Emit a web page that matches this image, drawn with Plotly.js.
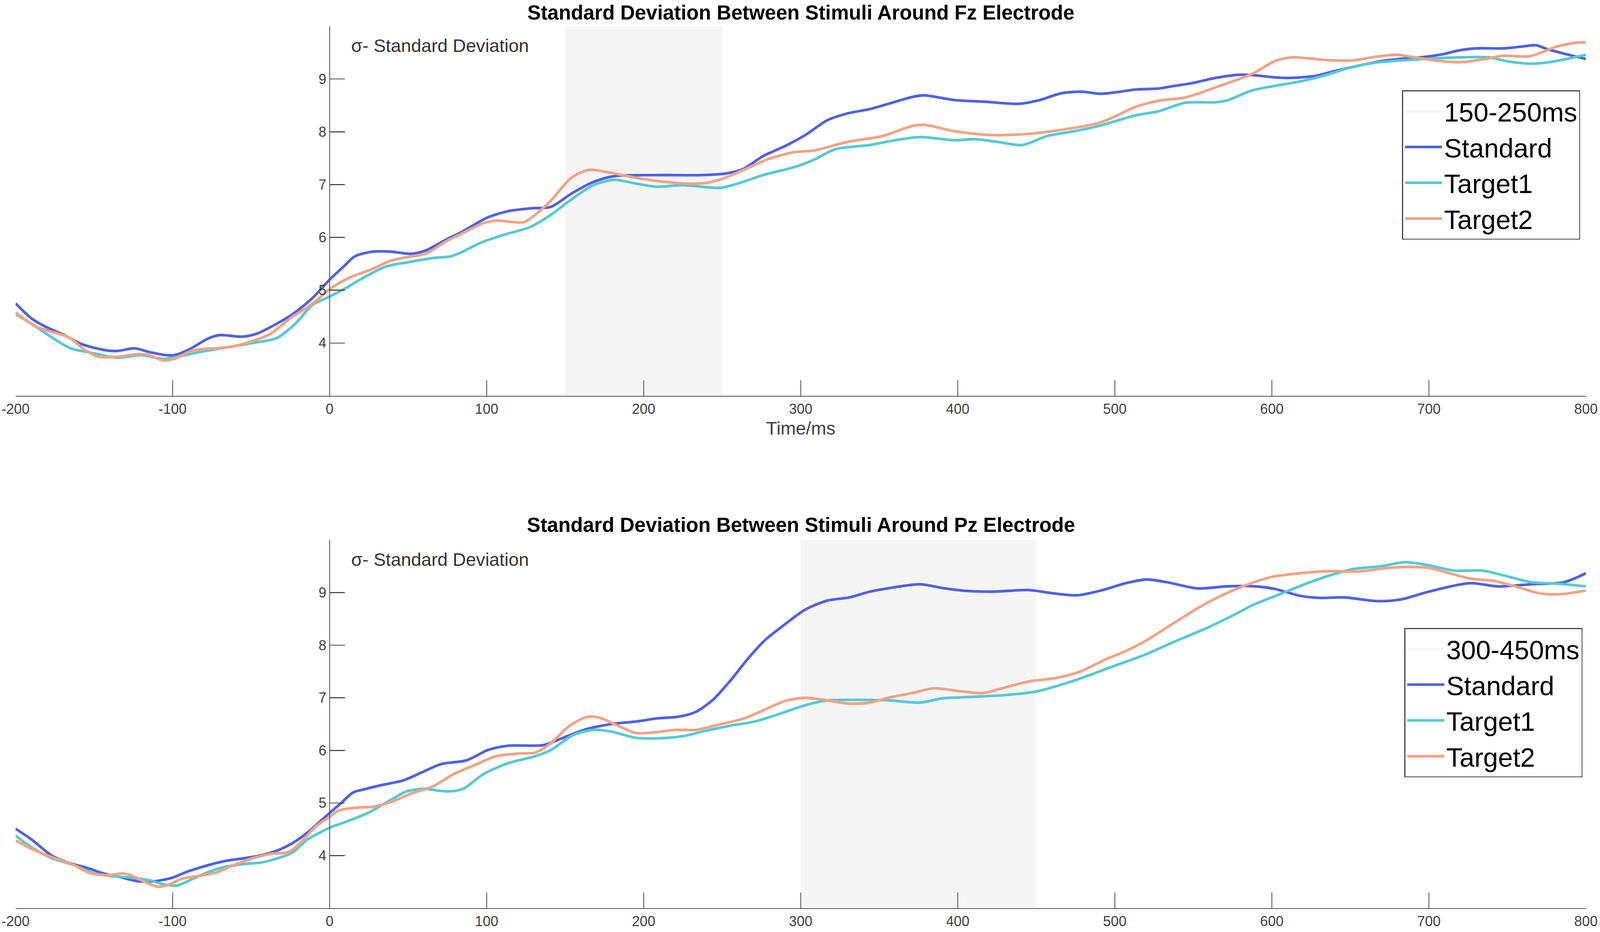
<!DOCTYPE html>
<html>
<head>
<meta charset="utf-8">
<script src="https://cdn.plot.ly/plotly-3.0.1.min.js"></script>
<style>html,body{margin:0;padding:0;background:#fff;overflow:hidden;}</style>
</head>
<body>
<div id="chart"></div>
<script>
// Fz electrode: time (ms) and standard deviation per stimulus
var fzStandardT = [-200,-190,-181,-169,-158,-142,-135,-124,-115,-104,-99,-90,-77,-70,-56,-47,-34,-22,-11,0,9,16,27,39,52,61,75,84,100,114,128,141,154,168,181,208,236,252,263,276,290,303,317,330,344,357,371,379,398,417,439,452,466,479,491,506,513,528,538,549,564,579,589,602,611,628,640,655,670,681,698,709,719,730,747,758,768,775,786,800];
var fzStandardV = [4.75,4.47,4.31,4.15,3.98,3.86,3.85,3.90,3.83,3.77,3.77,3.87,4.09,4.15,4.12,4.17,4.36,4.58,4.85,5.20,5.45,5.64,5.73,5.73,5.69,5.75,5.97,6.10,6.37,6.50,6.55,6.58,6.83,7.05,7.16,7.18,7.18,7.21,7.29,7.54,7.73,7.94,8.22,8.35,8.43,8.54,8.66,8.69,8.60,8.57,8.53,8.60,8.73,8.76,8.72,8.77,8.80,8.82,8.87,8.92,9.02,9.08,9.07,9.03,9.02,9.06,9.15,9.25,9.34,9.38,9.42,9.47,9.54,9.58,9.58,9.61,9.64,9.57,9.48,9.38];
var fzTarget1T = [-200,-187,-176,-165,-151,-135,-120,-106,-92,-79,-63,-47,-34,-22,-11,0,9,23,36,50,66,77,84,97,111,128,141,154,168,181,195,208,225,249,263,276,298,309,322,344,360,376,398,411,425,441,457,474,491,513,528,545,564,572,587,600,619,634,649,666,677,698,719,738,751,766,779,800];
var fzTarget1V = [4.55,4.31,4.09,3.90,3.81,3.72,3.77,3.70,3.77,3.85,3.93,4.01,4.09,4.36,4.72,4.88,5.02,5.26,5.45,5.53,5.61,5.64,5.72,5.91,6.05,6.20,6.43,6.72,6.99,7.09,7.02,6.96,6.99,6.94,7.05,7.18,7.35,7.48,7.67,7.75,7.84,7.90,7.84,7.86,7.81,7.75,7.92,8.01,8.12,8.31,8.39,8.55,8.56,8.60,8.78,8.86,8.96,9.07,9.21,9.31,9.34,9.38,9.41,9.41,9.33,9.29,9.33,9.46];
var fzTarget2T = [-200,-187,-172,-165,-156,-147,-135,-122,-115,-106,-99,-88,-79,-65,-52,-38,-25,-11,0,12,27,39,52,61,75,84,97,106,117,124,133,141,154,165,176,195,214,236,249,263,279,295,309,330,352,371,379,398,420,439,457,479,490,500,513,528,545,564,581,589,602,613,634,651,666,679,687,704,721,736,747,764,781,794,800];
var fzTarget2V = [4.58,4.31,4.17,4.09,3.87,3.74,3.74,3.79,3.77,3.67,3.70,3.85,3.89,3.92,4.01,4.17,4.47,4.74,5.02,5.23,5.40,5.56,5.64,5.69,5.94,6.07,6.26,6.32,6.29,6.29,6.48,6.70,7.13,7.28,7.24,7.13,7.05,7.02,7.10,7.27,7.48,7.61,7.65,7.81,7.92,8.11,8.13,8.01,7.94,7.95,8.00,8.10,8.17,8.29,8.47,8.59,8.65,8.84,9.02,9.12,9.34,9.41,9.36,9.35,9.42,9.46,9.43,9.35,9.32,9.38,9.44,9.43,9.61,9.69,9.69];

// Pz electrode
var pzStandardT = [-200,-190,-177,-167,-155,-144,-132,-122,-112,-100,-91,-77,-66,-54,-43,-33,-24,-14,-6,0,7,15,22,33,47,60,71,87,101,114,136,147,163,179,195,209,222,233,244,255,266,277,290,303,317,331,344,357,376,390,403,422,445,460,476,491,507,520,533,553,571,589,602,618,631,646,667,682,700,726,744,765,786,800];
var pzStandardV = [4.51,4.31,4.00,3.87,3.77,3.66,3.58,3.51,3.51,3.58,3.69,3.82,3.90,3.95,4.01,4.10,4.23,4.44,4.65,4.81,4.99,5.20,5.26,5.34,5.43,5.60,5.74,5.81,6.01,6.09,6.10,6.22,6.40,6.50,6.55,6.61,6.64,6.73,6.96,7.32,7.73,8.09,8.40,8.68,8.85,8.91,9.02,9.09,9.16,9.09,9.04,9.02,9.05,8.99,8.95,9.04,9.18,9.25,9.20,9.08,9.12,9.12,9.07,8.94,8.90,8.91,8.84,8.87,9.02,9.18,9.12,9.16,9.20,9.37];
var pzTarget1T = [-200,-190,-177,-163,-150,-139,-127,-115,-105,-97,-87,-77,-66,-54,-43,-33,-24,-14,-6,0,12,25,39,49,60,68,76,85,98,114,131,141,155,168,179,195,209,225,239,255,271,285,303,317,344,357,376,390,403,429,450,468,481,499,520,538,558,574,589,605,620,636,652,669,685,700,716,734,750,765,783,800];
var pzTarget1V = [4.38,4.16,3.95,3.82,3.66,3.61,3.58,3.53,3.45,3.43,3.56,3.69,3.79,3.84,3.87,3.95,4.05,4.31,4.44,4.53,4.66,4.82,5.06,5.22,5.27,5.24,5.22,5.27,5.55,5.76,5.89,6.01,6.29,6.39,6.36,6.24,6.23,6.27,6.37,6.47,6.55,6.68,6.86,6.95,6.96,6.95,6.91,6.99,7.01,7.05,7.12,7.27,7.40,7.60,7.83,8.07,8.32,8.55,8.78,8.97,9.15,9.32,9.45,9.50,9.58,9.52,9.42,9.42,9.31,9.20,9.17,9.12];
var pzTarget2T = [-200,-190,-177,-163,-152,-140,-132,-127,-117,-110,-104,-94,-84,-72,-61,-49,-38,-26,-18,-9,0,6,17,28,39,52,66,79,93,106,120,131,141,152,163,171,185,195,209,220,233,249,263,276,290,303,317,331,344,357,371,384,403,416,429,445,463,478,494,507,520,538,553,569,584,600,618,636,654,674,687,700,713,726,742,755,770,783,800];
var pzTarget2V = [4.29,4.13,3.97,3.82,3.66,3.63,3.66,3.63,3.49,3.41,3.43,3.56,3.61,3.68,3.82,3.95,4.03,4.07,4.26,4.55,4.74,4.86,4.91,4.93,5.02,5.18,5.32,5.55,5.73,5.89,5.94,5.96,6.14,6.45,6.63,6.63,6.45,6.33,6.35,6.39,6.39,6.50,6.60,6.76,6.94,7.00,6.95,6.89,6.91,7.01,7.09,7.18,7.12,7.09,7.19,7.31,7.38,7.50,7.73,7.89,8.09,8.43,8.71,8.96,9.15,9.30,9.37,9.41,9.40,9.47,9.49,9.47,9.37,9.27,9.22,9.12,8.99,8.97,9.04];

// highlighted windows (ms) and axis limits
var fzWindow = [150, 250];
var pzWindow = [300, 450];
var fzWindowLabel = '150-250ms';
var pzWindowLabel = '300-450ms';
var yLimits = [3, 10];
var xLimits = [-200, 800];
var xTicks = [-200, -100, 0, 100, 200, 300, 400, 500, 600, 700, 800];
var xTickText = ['-200', '-100', '0', '100', '200', '300', '400', '500', '600', '700', '800'];
var yTicks = [4, 5, 6, 7, 8, 9, 10];
var yTickText = ['4', '5', '6', '7', '8', '9', ''];
var seriesNames = ['Standard', 'Target1', 'Target2'];
var seriesColors = ['#4f62e2', '#56c9d4', '#f2a385'];

// fit the window (the reference is 4318 x 2385)
var W = window.innerWidth || 4318;
var H = window.innerHeight || 2385;
var sx = W / 4318, sy = H / 2385;
var k = Math.sqrt(sx * sy);

var FONT = 'Liberation Sans, Arial, Helvetica, sans-serif';
var AX = '#4d4d4d';

function windowTrace(win, label, xa, ya, leg) {
    return {
        x: [win[0], win[1], win[1], win[0], win[0]],
        y: [yLimits[0], yLimits[0], yLimits[1], yLimits[1], yLimits[0]],
        xaxis: xa, yaxis: ya, legend: leg,
        type: 'scatter', mode: 'lines', fill: 'toself',
        fillcolor: '#f5f5f5', line: {width: 0, color: '#f5f5f5'},
        name: label, hoverinfo: 'skip'
    };
}

function lineTrace(t, v, i, xa, ya, leg) {
    return {
        x: t, y: v, xaxis: xa, yaxis: ya, legend: leg,
        type: 'scatter', mode: 'lines', name: seriesNames[i],
        line: {color: seriesColors[i], width: 7 * k, shape: 'spline', smoothing: 0.8}
    };
}

var data = [
    windowTrace(fzWindow, fzWindowLabel, 'x', 'y', 'legend'),
    lineTrace(fzStandardT, fzStandardV, 0, 'x', 'y', 'legend'),
    lineTrace(fzTarget1T, fzTarget1V, 1, 'x', 'y', 'legend'),
    lineTrace(fzTarget2T, fzTarget2V, 2, 'x', 'y', 'legend'),
    windowTrace(pzWindow, pzWindowLabel, 'x2', 'y2', 'legend2'),
    lineTrace(pzStandardT, pzStandardV, 0, 'x2', 'y2', 'legend2'),
    lineTrace(pzTarget1T, pzTarget1V, 1, 'x2', 'y2', 'legend2'),
    lineTrace(pzTarget2T, pzTarget2V, 2, 'x2', 'y2', 'legend2')
];

var xDom = [0.0097, 0.9912];
// y axis crosses at t = 0, like MATLAB's YAxisLocation 'origin'
var yAxisPos = xDom[0] + (0 - xLimits[0]) / (xLimits[1] - xLimits[0]) * (xDom[1] - xDom[0]);

function xAxis(anchor, title) {
    var ax = {
        domain: xDom, range: xLimits, anchor: anchor,
        tickmode: 'array', tickvals: xTicks, ticktext: xTickText,
        ticks: 'inside', ticklen: 40 * sy, tickwidth: 2.5, tickcolor: AX,
        showline: true, linecolor: AX, linewidth: 2.5,
        showgrid: false, zeroline: false,
        tickfont: {family: FONT, size: 37 * k, color: '#404040'}
    };
    if (title) ax.title = {text: title, font: {family: FONT, size: 48 * k, color: '#404040'}, standoff: 14 * sy};
    return ax;
}

function yAxis(dom) {
    return {
        domain: dom, range: yLimits, anchor: 'free', position: yAxisPos,
        tickmode: 'array', tickvals: yTicks, ticktext: yTickText,
        ticks: 'inside', ticklen: 40 * sx, tickwidth: 2.5, tickcolor: AX,
        showline: true, linecolor: AX, linewidth: 2.5,
        showgrid: false, zeroline: false,
        tickfont: {family: FONT, size: 37 * k, color: '#404040'}
    };
}

function legendBox(x, y) {
    return {
        x: x, y: y, xanchor: 'left', yanchor: 'top',
        bgcolor: '#ffffff', bordercolor: '#444444', borderwidth: 2.5,
        font: {family: FONT, size: 70 * k, color: '#000000'},
        itemwidth: 100 * sx, tracegroupgap: 0
    };
}

function note(text, x, y, size, color, anchor, vanchor) {
    return {text: text, xref: 'paper', yref: 'paper', x: x, y: y,
            xanchor: anchor, yanchor: vanchor, showarrow: false,
            font: {family: FONT, size: size * k, color: color}};
}

var layout = {
    width: W, height: H,
    margin: {l: 0, r: 0, t: 0, b: 0},
    paper_bgcolor: '#ffffff', plot_bgcolor: 'rgba(0,0,0,0)',
    showlegend: true,
    xaxis: xAxis('y', 'Time/ms'),
    yaxis: yAxis([0.5753, 0.9719]),
    xaxis2: xAxis('y2', null),
    yaxis2: yAxis([0.0256, 0.4205]),
    legend: legendBox(0.8763, 0.9031),
    legend2: legendBox(0.8777, 0.3262),
    annotations: [
        note('<b>Standard Deviation Between Stimuli Around Fz Electrode</b>', 0.5005, 0.9996, 53, '#000000', 'center', 'top'),
        note('<b>Standard Deviation Between Stimuli Around Pz Electrode</b>', 0.5005, 0.4499, 53, '#000000', 'center', 'top'),
        note('σ- Standard Deviation', 0.219, 0.9509, 48, '#333333', 'left', 'middle'),
        note('σ- Standard Deviation', 0.219, 0.3996, 48, '#333333', 'left', 'middle')
    ]
};

Plotly.newPlot('chart', data, layout, {displayModeBar: false, staticPlot: true});
</script>
</body>
</html>
